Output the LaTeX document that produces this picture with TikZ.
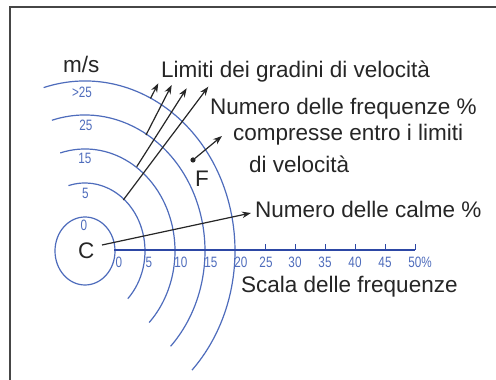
\documentclass[tikz,border=0pt]{standalone}
\usepackage{fontspec}
\setmainfont{Liberation Sans}
\newfontfamily\narrowfont[FakeStretch=0.78]{Liberation Sans}
\usetikzlibrary{arrows.meta}
\definecolor{arcblue}{RGB}{78,108,188}
\definecolor{axisblue}{RGB}{45,72,165}
\definecolor{ink}{RGB}{38,38,38}
\definecolor{framegray}{RGB}{70,70,70}
\begin{document}
\begin{tikzpicture}[x=1pt,y=1pt,
  arcline/.style={draw=arcblue, line width=1.2pt},
  axisline/.style={draw=axisblue, line width=2.8pt},
  tickline/.style={draw=axisblue, line width=0.9pt},
  lbl/.style={text=arcblue, font=\narrowfont\fontsize{15}{15}\selectfont, inner sep=0pt},
  txt/.style={text=ink, font=\fontsize{22.5}{26}\selectfont, inner sep=0pt, anchor=base west},
  arr/.style={draw=ink, line width=1.2pt, -{Stealth[length=9pt,width=6.5pt]}},
]
\useasboundingbox (0,0) rectangle (496,380);
\fill[white] (0,0) rectangle (496,380);
\draw[framegray, line width=1.2pt] (10,0) -- (10,373) -- (496,373);

% centre and rings
\coordinate (C0) at (85,129);
\draw[arcline] (C0) ellipse [x radius=30pt, y radius=34pt];
\draw[arcline] (C0) ++(106:60pt and 68pt) arc[start angle=106, end angle=-44.5, x radius=60pt, y radius=68pt];
\draw[arcline] (C0) ++(106:90pt and 102pt) arc[start angle=106, end angle=-44.5, x radius=90pt, y radius=102pt];
\draw[arcline] (C0) ++(106:120pt and 136pt) arc[start angle=106, end angle=-44.5, x radius=120pt, y radius=136pt];
\draw[arcline] (C0) ++(106:150pt and 170pt) arc[start angle=106, end angle=-44.5, x radius=150pt, y radius=170pt];

% ring labels
\node[lbl] (r0) at (84,155) {0};
\node[lbl] (r5) at (85.5,187) {5};
\node[lbl] (r15) at (85,222) {15};
\node[lbl] (r25) at (86,255) {25};
\node[lbl] (rg25) at (82,288) {>25};

% frequency scale
\coordinate (ax0) at (114,130);
\coordinate (ax50) at (415,130);
\draw[axisline] (ax0) -- (ax50);
\foreach \x in {265,295,325,355,385,415} \draw[tickline] (\x,130) -- (\x,136);
\node[lbl] (s0) at (119,118) {0};
\node[lbl] (s5) at (149,118) {5};
\node[lbl] (s10) at (181,118) {10};
\node[lbl] (s15) at (211,118) {15};
\node[lbl] (s20) at (241,118) {20};
\node[lbl] (s25) at (266,118) {25};
\node[lbl] (s30) at (295,118) {30};
\node[lbl] (s35) at (325,118) {35};
\node[lbl] (s40) at (355,118) {40};
\node[lbl] (s45) at (385,118) {45};
\node[lbl] (s50) at (420,118) {50\%};

% texts
\node[txt] (ms) at (63,307) {m/s};
\node[txt] (C) at (78,121) {C};
\node[txt] (F) at (195,193) {F};
\node[txt] (limiti) at (161,302) {Limiti dei gradini di velocità};
\node[txt] (numfreq) at (210,265) {Numero delle frequenze \%};
\node[txt] (compr) at (233,239) {compresse entro i limiti};
\node[txt] (divel) at (249,207) {di velocità};
\node[txt] (calme) at (255,162) {Numero delle calme \%};
\node[txt] (scala) at (241,87) {Scala delle frequenze};

% arrows to the step limits
\coordinate (T1) at (150.5,281.6);
\coordinate (H1) at (158.3,296.7);
\coordinate (T2) at (146,245);
\coordinate (H2) at (171.7,295);
\coordinate (T3) at (136.7,213.3);
\coordinate (H3) at (186.7,291.7);
\coordinate (T4) at (123.3,180);
\coordinate (H4) at (208.3,293.3);
\draw[arr] (T1) -- (H1);
\draw[arr] (T2) -- (H2);
\draw[arr] (T3) -- (H3);
\draw[arr] (T4) -- (H4);

% F arrow
\coordinate (Fdot) at (193,220);
\coordinate (Fend) at (222,244);
\fill[ink] (Fdot) circle (2.6pt);
\draw[arr] (Fdot) -- (Fend);

% calm arrow
\coordinate (calmS) at (102,135);
\coordinate (calmE) at (251,167);
\draw[arr] (calmS) -- (calmE);
\end{tikzpicture}
\end{document}
